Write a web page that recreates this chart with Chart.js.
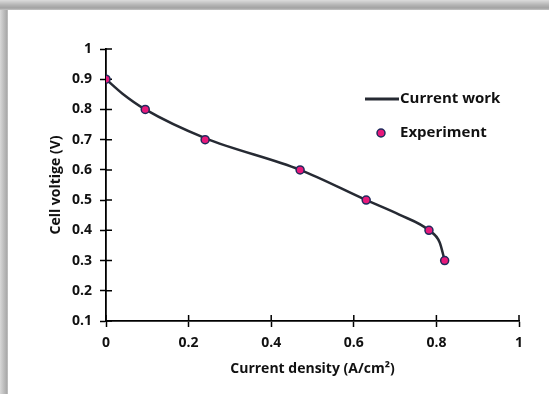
<!DOCTYPE html>
<html>
<head>
<meta charset="utf-8">
<script src="https://cdn.jsdelivr.net/npm/chart.js@4/dist/chart.umd.min.js"></script>
<style>
  html, body { margin: 0; padding: 0; }
  body {
    width: 549px; height: 394px; overflow: hidden; position: relative;
    background:
      linear-gradient(to bottom, #dcdcdc 0px, #b4b4b4 5px, #a2a2a2 8px, #c4c4c4 10px, rgba(255,255,255,0) 10px),
      linear-gradient(to right, #d8d8d8 0px, #bcbcbc 4px, #a8a8a8 7px, #cfcfcf 8px, #ffffff 8px);
  }
  canvas { position: absolute; left: 0; top: 0; }
</style>
</head>
<body>
<canvas id="fcChart" width="549" height="394"></canvas>
<script>
// experiment points
const expDensity = [0, 0.095, 0.24, 0.47, 0.63, 0.782, 0.82];
const expVoltage = [0.9, 0.8, 0.7, 0.6, 0.5, 0.4, 0.3];

// model curve ("Current work")
const modelDensity = [0, 0.04, 0.095, 0.24, 0.47, 0.63, 0.71, 0.782, 0.808, 0.82];
const modelVoltage = [0.9, 0.852, 0.8, 0.705, 0.6, 0.5, 0.452, 0.4, 0.36, 0.3];

const seriesNames = ["Current work", "Experiment"];
const xTitle = "Current density (A/cm²)";
const yTitle = "Cell voltige (V)";

const FONT = "'Open Sans', Lato, sans-serif";
const lineColor = "#262a33";
const dotFill = "#e8197b";
const dotEdge = "#1f2b5c";

const toXY = (xs, ys) => xs.map((x, i) => ({ x: x, y: ys[i] }));
const fmt = (v) => String(+Number(v).toFixed(1));

// ticks that cross the axis (inner half)
const innerTicks = {
  id: "innerTicks",
  beforeDatasetsDraw(chart) {
    const { ctx, chartArea, scales } = chart;
    ctx.save();
    ctx.strokeStyle = "#000";
    ctx.lineWidth = 1.5;
    ctx.beginPath();
    scales.x.ticks.forEach((t) => {
      const px = scales.x.getPixelForValue(t.value);
      ctx.moveTo(px, chartArea.bottom);
      ctx.lineTo(px, chartArea.bottom - 6);
    });
    scales.y.ticks.forEach((t) => {
      const py = scales.y.getPixelForValue(t.value);
      ctx.moveTo(chartArea.left, py);
      ctx.lineTo(chartArea.left + 6, py);
    });
    ctx.stroke();
    ctx.restore();
  },
};

// legend in the upper right of the plot
const sideLegend = {
  id: "sideLegend",
  afterDraw(chart) {
    const ctx = chart.ctx;
    ctx.save();
    ctx.font = "bold 15px " + FONT;
    ctx.fillStyle = "#111";
    ctx.textBaseline = "middle";
    ctx.strokeStyle = lineColor;
    ctx.lineWidth = 3;
    ctx.beginPath();
    ctx.moveTo(365, 99);
    ctx.lineTo(399, 99);
    ctx.stroke();
    ctx.fillText(seriesNames[0], 400, 99);
    ctx.beginPath();
    ctx.arc(381, 133, 4, 0, Math.PI * 2);
    ctx.fillStyle = dotFill;
    ctx.fill();
    ctx.lineWidth = 1.5;
    ctx.strokeStyle = dotEdge;
    ctx.stroke();
    ctx.fillStyle = "#111";
    ctx.fillText(seriesNames[1], 400, 133);
    ctx.restore();
  },
};

new Chart(document.getElementById("fcChart").getContext("2d"), {
  type: "scatter",
  data: {
    datasets: [
      {
        label: seriesNames[0],
        data: toXY(modelDensity, modelVoltage),
        showLine: true,
        borderColor: lineColor,
        borderWidth: 2.5,
        pointRadius: 0,
        cubicInterpolationMode: "monotone",
        order: 2,
      },
      {
        label: seriesNames[1],
        data: toXY(expDensity, expVoltage),
        showLine: false,
        pointRadius: 4,
        pointBackgroundColor: dotFill,
        pointBorderColor: dotEdge,
        pointBorderWidth: 1.5,
        order: 1,
      },
    ],
  },
  options: {
    responsive: false,
    animation: false,
    devicePixelRatio: 1,
    layout: { padding: { left: 0, right: 30, top: 49, bottom: 10 } },
    plugins: { legend: { display: false }, tooltip: { enabled: false } },
    scales: {
      x: {
        type: "linear",
        min: 0,
        max: 1,
        ticks: { stepSize: 0.2, callback: fmt, color: "#111", padding: 8, font: { family: FONT, size: 14, weight: "bold" } },
        grid: { drawOnChartArea: false, tickLength: 6, tickColor: "#000", tickWidth: 1.5 },
        border: { display: true, color: "#000", width: 1.8 },
        title: { display: true, text: xTitle, color: "#111", font: { family: FONT, size: 14, weight: "bold" }, padding: { top: 0, bottom: 7 } },
        afterFit: (s) => { s.height = 63; },
      },
      y: {
        min: 0.1,
        max: 1,
        ticks: { stepSize: 0.1, callback: fmt, color: "#111", padding: 8, font: { family: FONT, size: 14, weight: "bold" } },
        grid: { drawOnChartArea: false, tickLength: 6, tickColor: "#000", tickWidth: 1.5 },
        border: { display: true, color: "#000", width: 1.8 },
        title: { display: true, text: yTitle, color: "#111", font: { family: FONT, size: 14, weight: "bold" }, padding: { top: 48, bottom: 0 } },
        afterFit: (s) => { s.width = 106; },
      },
    },
  },
  plugins: [innerTicks, sideLegend],
});
</script>
</body>
</html>
